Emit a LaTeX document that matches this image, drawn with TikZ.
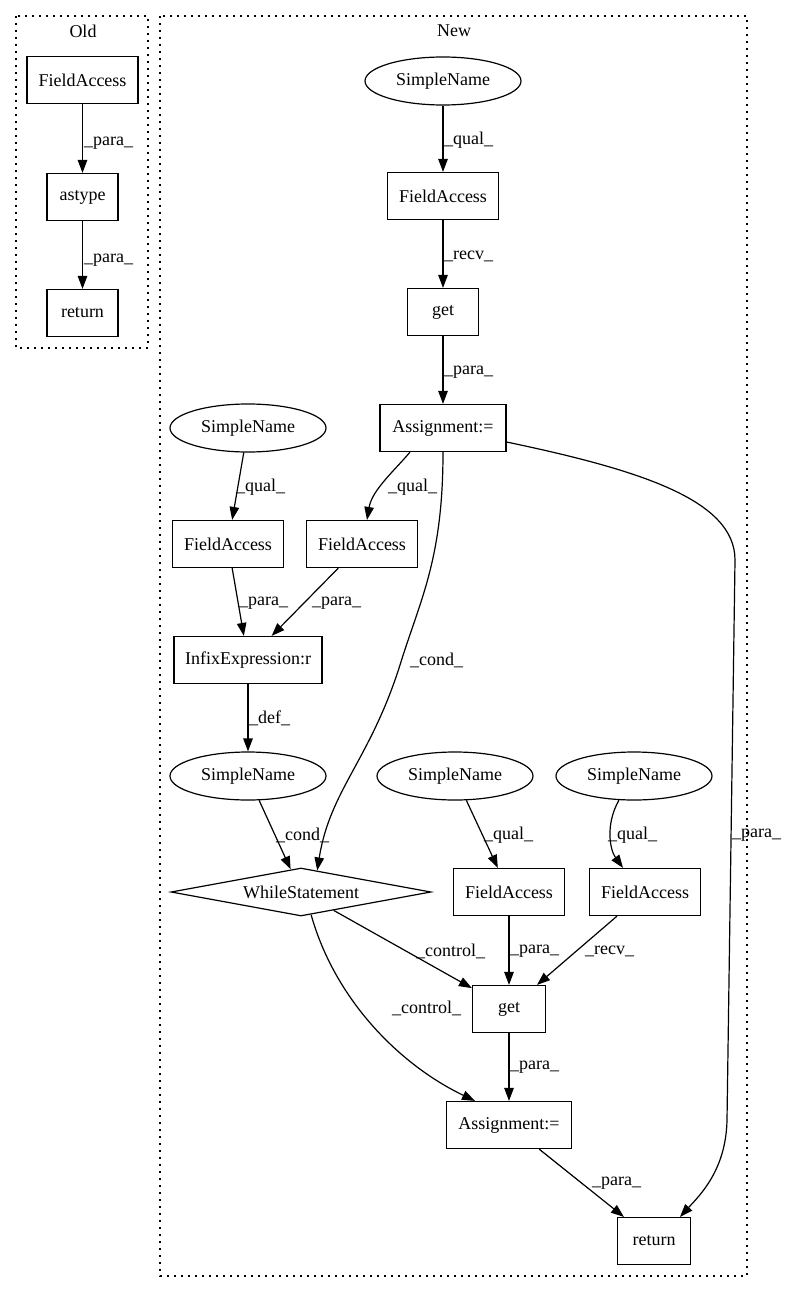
\documentclass[tikz,border=0pt]{standalone}
\usepackage{fontspec}
\setmainfont{Liberation Serif}
\usetikzlibrary{shapes.geometric,arrows.meta}

\begin{document}
\begin{tikzpicture}[x=1pt,y=-1pt,
    every node/.style={font=\fontsize{18pt}{21pt}\selectfont, inner sep=0pt},
    box/.style={draw, line width=1.2pt, minimum height=47pt},
    oval/.style={draw, ellipse, line width=1.2pt, minimum width=156pt, minimum height=48pt},
    decision/.style={draw, diamond, aspect=5.4, line width=1.2pt, minimum width=260pt, minimum height=48pt},
    flow/.style={line width=1.2pt, -{Triangle[length=13pt,width=9.5pt]}},
    lbl/.style={anchor=west},
    cluster/.style={line width=1.2pt, dash pattern=on 2pt off 5pt}]

    % Page and background
    \useasboundingbox (0,0) rectangle (784,1292);
    \fill[white] (0,0) rectangle (784,1292);

    % Clusters (dotted frames)
    \draw[cluster] (16,16) rectangle (148,348);
    \draw[cluster] (160,16) rectangle (747,1276);
    \node (oldTitle) at (83,31) {Old};
    \node (newTitle) at (454,31) {New};

    % Old graph
    \node[box, minimum width=111pt] (oldFA) at (82.5,80) {FieldAccess};
    \node[box, minimum width=71pt] (oldAstype) at (82.5,197) {astype};
    \node[box, minimum width=71pt] (oldRet) at (82.5,313) {return};

    \draw[flow] (oldFA) -- (oldAstype);
    \draw[flow] (oldAstype) -- (oldRet);
    \node[lbl] (lOld1) at (84,143) {\_para\_};
    \node[lbl] (lOld2) at (84,260) {\_para\_};

    % New graph: top chain
    \node[oval] (snTop) at (443,81) {SimpleName};
    \node[box, minimum width=111pt] (faTop) at (443,196) {FieldAccess};
    \node[box, minimum width=71pt] (getTop) at (443,312) {get};
    \node[box, minimum width=126pt] (asgTop) at (443,428) {Assignment:=};

    % New graph: condition part
    \node[oval] (snLeft) at (248,428) {SimpleName};
    \node[box, minimum width=111pt] (faLeft) at (228,544) {FieldAccess};
    \node[box, minimum width=111pt] (faMid) at (362,544) {FieldAccess};
    \node[box, minimum width=148pt] (infix) at (248,660) {InfixExpression:r};
    \node[oval] (snCond) at (248,776) {SimpleName};
    \node[decision] (while) at (301,892) {WhileStatement};

    % New graph: loop body
    \node[oval] (snMid) at (455,776) {SimpleName};
    \node[oval] (snRight) at (634,776) {SimpleName};
    \node[box, minimum width=111pt] (faLow) at (509,892) {FieldAccess};
    \node[box, minimum width=111pt] (faRight) at (645,892) {FieldAccess};
    \node[box, minimum width=73pt] (getLow) at (509,1009) {get};
    \node[box, minimum width=125pt] (asgLow) at (509,1125) {Assignment:=};
    \node[box, minimum width=73pt] (ret) at (654,1241) {return};

    % Edges of the top chain
    \draw[flow] (snTop) -- (faTop);
    \draw[flow] (faTop) -- (getTop);
    \draw[flow] (getTop) -- (asgTop);
    \node[lbl] (lQualTop) at (444,140) {\_qual\_};
    \node[lbl] (lRecvTop) at (444,256) {\_recv\_};
    \node[lbl] (lParaTop) at (444,372) {\_para\_};

    % Edges from the first assignment
    \draw[flow] ([xshift=-33pt]asgTop.south) .. controls (395,470) and (372,490) .. ([xshift=5pt]faMid.north);
    \draw[flow] (asgTop.south) .. controls (443,560) and (420,600) .. (400,665)
        .. controls (370,760) and (330,790) .. (while.53);
    \draw[flow] ([yshift=-14pt]asgTop.east) .. controls (640,470) and (735,500) .. (735,560)
        -- (727,1120) .. controls (726,1170) and (700,1195) .. ([xshift=26pt]ret.north);
    \node[lbl] (lQualMid) at (388,487) {\_qual\_};
    \node[lbl] (lCondLong) at (410,660) {\_cond\_};
    \node[lbl] (lParaLong) at (732,835) {\_para\_};

    % Edges of the condition
    \draw[flow] (snLeft) -- (faLeft);
    \draw[flow] (faLeft) -- (infix);
    \draw[flow] (faMid) -- (infix);
    \draw[flow] (infix) -- (snCond);
    \draw[flow] (snCond) -- (while);
    \node[lbl] (lQualLeft) at (236,487) {\_qual\_};
    \node[lbl] (lParaLeft) at (239,603) {\_para\_};
    \node[lbl] (lParaMid) at (312,603) {\_para\_};
    \node[lbl] (lDef) at (249,718) {\_def\_};
    \node[lbl] (lCond) at (276,835) {\_cond\_};

    % Edges of the loop body
    \draw[flow] (snMid) -- (faLow);
    \draw[flow] (snRight.-122) .. controls (605,825) and (610,850) .. ([xshift=-22pt]faRight.north);
    \draw[flow] (while) -- (getLow);
    \draw[flow] (faLow) -- (getLow);
    \draw[flow] (faRight) -- (getLow);
    \draw[flow] (while.-66) .. controls (335,1000) and (400,1065) .. ([xshift=-34pt]asgLow.north);
    \draw[flow] (getLow) -- (asgLow);
    \draw[flow] (asgLow) -- (ret);
    \node[lbl] (lQualLow) at (484,835) {\_qual\_};
    \node[lbl] (lQualRight) at (608,835) {\_qual\_};
    \node[lbl] (lCtrlGet) at (416,951) {\_control\_};
    \node[lbl] (lParaGet) at (510,951) {\_para\_};
    \node[lbl] (lRecvGet) at (585,951) {\_recv\_};
    \node[lbl] (lCtrlAsg) at (392,1008) {\_control\_};
    \node[lbl] (lParaAsg) at (510,1067) {\_para\_};
    \node[lbl] (lParaRet) at (592,1183) {\_para\_};
\end{tikzpicture}
\end{document}
